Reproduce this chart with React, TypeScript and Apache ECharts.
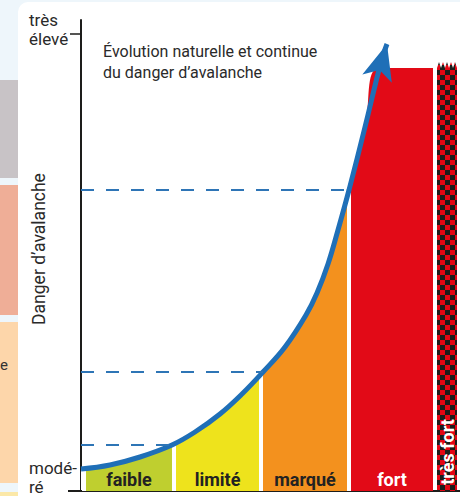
import React, { useEffect, useRef } from 'react';
import * as echarts from 'echarts';

// Danger levels (x extent of each band, in chart x units)
const levels = ['faible', 'limité', 'marqué', 'fort', 'très fort'];
const levelStart = [5, 95, 182, 270, 356];
const levelEnd = [91, 178, 266, 352, 376];
const levelLabelY = [12, 12, 12, 12, 39];
const levelColors = ['#bfcf2f', '#eee31c', '#f3911e', '#e20a17'];
const levelTextColors = ['#222222', '#222222', '#222222', '#ffffff', '#ffffff'];

// Continuous evolution curve
const curveX = [0, 29, 59, 91, 114, 139, 161, 182, 204, 225, 236, 247, 257, 268, 284, 300, 306];
const curveY = [22, 26, 34, 46, 59, 77, 97, 119, 144, 176, 198, 227, 261, 301, 364, 429, 447];

// Filled area under the curve (capped at "fort" level)
const bandX = [0, 29, 59, 91, 114, 139, 161, 182, 204, 225, 236, 247, 257, 268, 284, 298, 352];
const bandY = [22, 26, 34, 46, 59, 77, 97, 119, 144, 176, 198, 227, 261, 301, 364, 423, 423];

// "très fort" column (jagged top)
const veryHighX = [356, 358, 360, 362, 364, 366, 368, 370, 372, 374, 376];
const veryHighY = [423, 429, 423, 429, 423, 429, 423, 429, 423, 429, 423];

// Thresholds between levels (dashed lines)
const thresholdX = [91, 182, 268];
const thresholdY = [46, 119, 301];

// Arrow head
const arrowPoint = [306, 447];

// Y axis
const axisTickValues = [457];
const axisLabelValues = [462, 14];
const axisLabelTexts = ['très\nélevé', 'modé-\nré'];

const FONT = 'Roboto';

export default function App() {
  const ref = useRef<HTMLDivElement>(null);
  useEffect(() => {
    if (!ref.current) return;
    const chart = echarts.init(ref.current, undefined, { renderer: 'svg' });

    const cv = document.createElement('canvas');
    cv.width = 10;
    cv.height = 10;
    const ctx = cv.getContext('2d')!;
    ctx.fillStyle = '#1d1d1b';
    ctx.fillRect(0, 0, 10, 10);
    ctx.fillStyle = '#e30613';
    ctx.fillRect(0, 0, 5, 5);
    ctx.fillRect(5, 5, 5, 5);

    const pieces: any[] = [{ lt: levelStart[0], color: '#ffffff' }];
    for (let i = 0; i < 4; i++) {
      pieces.push({ gte: levelStart[i], lte: levelEnd[i], color: levelColors[i] });
      if (i < 3) pieces.push({ gt: levelEnd[i], lt: levelStart[i + 1], color: '#ffffff' });
    }
    pieces.push({ gt: levelEnd[3], color: '#ffffff' });

    const option: any = {
      animation: false,
      backgroundColor: '#eef6fb',
      graphic: [
        { type: 'rect', z: -10, shape: { x: 0, y: 80, width: 18, height: 98 }, style: { fill: '#c8c3c6' } },
        { type: 'rect', z: -10, shape: { x: 0, y: 185, width: 18, height: 130 }, style: { fill: '#efae97' } },
        { type: 'rect', z: -10, shape: { x: 0, y: 322, width: 18, height: 161 }, style: { fill: '#fdd6aa' } },
        { type: 'rect', z: -10, shape: { x: 0, y: 492, width: 18, height: 4 }, style: { fill: '#fbe8a8' } },
        { type: 'text', z: -9, x: 0, y: 357, style: { text: 'e', font: `15px ${FONT}`, fill: '#333' } },
        { type: 'rect', z: -8, shape: { x: 18, y: 2, width: 470, height: 520, r: 10 }, style: { fill: '#ffffff' } },
        { type: 'line', z: 10, shape: { x1: 68, y1: 491, x2: 82, y2: 491 }, style: { stroke: '#1d1d1b', lineWidth: 2 } },
      ],
      title: {
        text: 'Évolution naturelle et continue\ndu danger d’avalanche',
        left: 98,
        top: 36,
        textStyle: { fontFamily: FONT, fontSize: 16, fontWeight: 'normal', color: '#2a2a2a', lineHeight: 21 },
      },
      grid: { left: 81, right: 0, top: 20, bottom: 5, outerBoundsMode: 'none', containLabel: false },
      xAxis: {
        type: 'value',
        min: 0,
        max: 379,
        axisLine: { show: true, lineStyle: { color: '#1d1d1b', width: 2 } },
        axisTick: { show: false },
        axisLabel: { show: false },
        splitLine: { show: false },
      },
      yAxis: {
        type: 'value',
        min: 0,
        max: 471,
        name: 'Danger d’avalanche',
        nameLocation: 'middle',
        nameGap: 33,
        nameRotate: 90,
        nameMoveOverlap: false,
        nameTextStyle: { fontFamily: FONT, fontSize: 17.5, color: '#2a2a2a', padding: [0, 0, 0, 13] },
        axisLine: { show: true, lineStyle: { color: '#1d1d1b', width: 2 } },
        axisTick: { show: true, customValues: axisTickValues, length: 11, lineStyle: { color: '#1d1d1b', width: 1.5 } },
        axisLabel: {
          show: true,
          customValues: axisLabelValues,
          formatter: (v: number) => axisLabelTexts[axisLabelValues.indexOf(v)] ?? '',
          align: 'left',
          margin: 52,
          fontFamily: FONT,
          fontSize: 17,
          lineHeight: 19,
          color: '#2a2a2a',
        },
        splitLine: { show: false },
      },
      visualMap: {
        type: 'piecewise',
        show: false,
        dimension: 0,
        seriesIndex: 0,
        pieces,
      },
      series: [
        {
          type: 'line',
          data: bandX.map((x, i) => [x, bandY[i]]),
          smooth: 0.4,
          symbol: 'none',
          lineStyle: { width: 0 },
          areaStyle: { opacity: 1 },
          z: 1,
        },
        {
          type: 'line',
          data: veryHighX.map((x, i) => [x, veryHighY[i]]),
          symbol: 'none',
          lineStyle: { width: 0 },
          areaStyle: {
            opacity: 1,
            color: { image: cv, repeat: 'repeat', imageWidth: 10, imageHeight: 10 },
          },
          z: 1,
        },
        {
          type: 'line',
          data: curveX.map((x, i) => [x, curveY[i]]),
          smooth: 0.4,
          symbol: 'none',
          lineStyle: { color: '#1f6fb7', width: 5, cap: 'butt' },
          z: 3,
          markLine: {
            silent: true,
            symbol: 'none',
            label: { show: false },
            lineStyle: { color: '#2e75b6', width: 2, type: [13, 12] },
            data: thresholdY.map((y, i) => [{ coord: [0, y] }, { coord: [thresholdX[i], y] }]),
          },
        },
        {
          type: 'scatter',
          data: [arrowPoint],
          symbol: 'arrow',
          symbolSize: [23, 36],
          symbolRotate: -16,
          itemStyle: { color: '#1f6fb7', opacity: 1 },
          z: 4,
        },
        {
          type: 'scatter',
          symbol: 'rect',
          symbolSize: 1,
          itemStyle: { color: 'transparent', opacity: 1 },
          z: 5,
          data: levels.map((name, i) => ({
            value: [(levelStart[i] + levelEnd[i]) / 2, levelLabelY[i]],
            label: {
              show: true,
              position: 'inside',
              formatter: name,
              rotate: i === 4 ? 90 : 0,
              color: levelTextColors[i],
              opacity: 1,
              fontFamily: FONT,
              fontWeight: 'bold',
              fontSize: 18,
            },
          })),
        },
      ],
    };
    chart.setOption(option);
    return () => chart.dispose();
  }, []);
  return <div ref={ref} style={{ position: 'fixed', left: 0, top: 0, width: 460, height: 496 }} />;
}
